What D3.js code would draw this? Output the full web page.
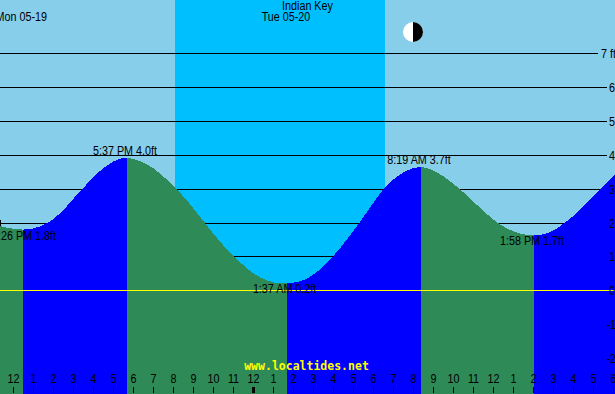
<!DOCTYPE html>
<html>
<head>
<meta charset="utf-8">
<script src="https://cdn.jsdelivr.net/npm/d3@7"></script>
<style>
  html, body { margin: 0; padding: 0; background: #87ceeb; overflow: hidden; }
  svg { display: block; }
  text { font-family: "Liberation Sans", Arial, sans-serif; font-size: 12.5px; fill: #000; }
  .url { font-family: "DejaVu Sans Mono", monospace; font-size: 11.5px; font-weight: bold; fill: #ff0; }
</style>
</head>
<body>
<div id="chart"></div>
<script>
// hours counted from noon Mon 05-19, height in feet
const tideHours = [-0.73, -0.23, 0.42, 0.92, 1.6, 2.27, 3.12, 3.77, 4.27, 4.77, 5.17, 5.62,
  6.27, 6.94, 7.6, 8.1, 8.6, 9.52, 10.27, 10.97, 11.6, 12.27, 12.94, 13.6,
  14.27, 14.94, 15.94, 16.6, 17.19, 17.77, 18.44, 18.94, 19.6, 20.32,
  20.86, 21.52, 22.27, 23.02, 23.69, 24.22, 24.86, 25.36, 25.97,
  26.69, 27.47, 28.36, 29.27, 30.02];
const tideFeet = [1.90, 1.84, 1.80, 1.83, 1.98, 2.28, 2.83, 3.24, 3.53, 3.75, 3.87, 3.92,
  3.82, 3.61, 3.28, 2.99, 2.67, 1.99, 1.44, 1.01, 0.66, 0.39, 0.24, 0.22,
  0.27, 0.47, 1.02, 1.50, 1.96, 2.45, 2.99, 3.28, 3.54, 3.65,
  3.56, 3.34, 2.99, 2.58, 2.22, 1.97, 1.77, 1.67, 1.63,
  1.70, 1.98, 2.43, 2.99, 3.42];

// highs and lows
const eventHours = [0.42, 5.62, 13.6, 20.32, 25.97];
const eventFeet = [1.80, 3.92, 0.22, 3.65, 1.63];
const eventLabels = ['12:26 PM 1.8ft', '5:37 PM 4.0ft', '1:37 AM 0.2ft', '8:19 AM 3.7ft', '1:58 PM 1.7ft'];

const nightStart = 8.02;
const nightEnd = 18.52;

const feetTicks = [7, 6, 5, 4, 3, 2, 1, 0, -1, -2];
const feetLabels = ['7 ft', '6', '5', '4', '3', '2', '1', '0', '-1', '-2'];
const hourLabels = ['12', '1', '2', '3', '4', '5', '6', '7', '8', '9', '10', '11',
  '12', '1', '2', '3', '4', '5', '6', '7', '8', '9', '10', '11',
  '12', '1', '2', '3', '4', '5', '6'];

const width = 615;
const height = 394;

const xScale = d3.scaleLinear().domain([0, 30]).range([14.6, 614.6]);
const yScale = d3.scaleLinear().domain([0, 7]).range([290.8, 53.85]);
// curve was read against a slightly different origin
const yTide = d3.scaleLinear().domain([0, 7]).range([290.5, 53.5]);

const svg = d3.select('#chart')
  .append('svg')
  .attr('width', width)
  .attr('height', height)
  .attr('viewBox', `0 0 ${width} ${height}`);

// -------------------------------
// Day / night background
// -------------------------------
svg.append('rect')
  .attr('width', width).attr('height', height)
  .attr('fill', '#87ceeb');

svg.append('rect')
  .attr('x', xScale(nightStart))
  .attr('width', xScale(nightEnd) - xScale(nightStart))
  .attr('height', height)
  .attr('fill', '#00bfff')
  .attr('shape-rendering', 'crispEdges');

// -------------------------------
// Grid lines (water covers them)
// -------------------------------
svg.append('g')
  .selectAll('line')
  .data(feetTicks.filter((d) => d > 0))
  .join('line')
  .attr('x1', 0)
  .attr('x2', (d) => (d === 7 ? 598 : 607))
  .attr('y1', (d) => yScale(d))
  .attr('y2', (d) => yScale(d))
  .attr('stroke', '#000')
  .attr('shape-rendering', 'crispEdges');

// -------------------------------
// Water: one smooth curve, clipped to each rising or falling run
// -------------------------------
const tide = tideHours.map((h, i) => ({ h, ft: tideFeet[i] }));
const area = d3.area()
  .x((d) => xScale(d.h))
  .y0(height)
  .y1((d) => yTide(d.ft))
  .curve(d3.curveCatmullRom.alpha(0.5));

const edges = [d3.min(tideHours), ...eventHours, d3.max(tideHours)];
const defs = svg.append('defs');
d3.pairs(edges).forEach(([a, b], i) => {
  defs.append('clipPath')
    .attr('id', `run-${i}`)
    .append('rect')
    .attr('x', Math.round(xScale(a)))
    .attr('y', 0)
    .attr('width', Math.round(xScale(b)) - Math.round(xScale(a)))
    .attr('height', height);

  svg.append('path')
    .datum(tide)
    .attr('d', area)
    .attr('clip-path', `url(#run-${i})`)
    .attr('fill', i % 2 === 0 ? '#2e8b57' : '#0000ff')
    .attr('shape-rendering', 'crispEdges');
});

// Datum line
svg.append('line')
  .attr('x1', 0).attr('x2', width)
  .attr('y1', yScale(0)).attr('y2', yScale(0))
  .attr('stroke', '#ffff00')
  .attr('shape-rendering', 'crispEdges');

// Clipped stub at the left edge
svg.append('line')
  .attr('x1', 0.5).attr('x2', 0.5)
  .attr('y1', yScale(2.1)).attr('y2', yScale(1.9))
  .attr('stroke', '#000')
  .attr('shape-rendering', 'crispEdges');

// -------------------------------
// Text
// -------------------------------
svg.append('text').attr('x', 307.5).attr('y', 10).attr('text-anchor', 'middle').text('Indian Key');
svg.append('text').attr('x', 286).attr('y', 21).attr('text-anchor', 'middle').text('Tue 05-20');
svg.append('text').attr('x', 47).attr('y', 21).attr('text-anchor', 'end').text('Mon 05-19');

svg.append('g')
  .selectAll('text')
  .data(eventLabels)
  .join('text')
  .attr('text-anchor', 'middle')
  .attr('x', (d, i) => xScale(eventHours[i]) - 2)
  .attr('y', (d, i) => yTide(eventFeet[i]) + (i % 2 === 0 ? 10 : -3))
  .text((d) => d);

svg.append('g')
  .selectAll('text')
  .data(feetLabels)
  .join('text')
  .attr('x', (d, i) => (i === 0 ? 601 : (feetTicks[i] < 0 ? 606.5 : 609)))
  .attr('y', (d, i) => yScale(feetTicks[i]) + 4.5)
  .text((d) => d);

// -------------------------------
// Hour axis
// -------------------------------
const hours = svg.append('g');
hourLabels.forEach((label, i) => {
  const x = Math.floor(xScale(i)) - 1;
  hours.append('text')
    .attr('x', x + 0.5)
    .attr('y', 383)
    .attr('text-anchor', 'middle')
    .text(label);
  hours.append('rect')
    .attr('x', i === 12 ? x - 1 : x)
    .attr('y', 387)
    .attr('width', i === 12 ? 3 : 1)
    .attr('height', 6)
    .attr('fill', '#000')
    .attr('shape-rendering', 'crispEdges');
});

// the original font is narrower than Liberation Sans
svg.selectAll('text').each(function () {
  const len = this.getComputedTextLength();
  d3.select(this)
    .attr('textLength', (len * 0.86).toFixed(1))
    .attr('lengthAdjust', 'spacingAndGlyphs');
});

svg.append('text')
  .attr('class', 'url')
  .attr('x', 306.5)
  .attr('y', 370)
  .attr('text-anchor', 'middle')
  .text('www.localtides.net');

// -------------------------------
// Moon phase
// -------------------------------
const moon = svg.append('g').attr('transform', 'translate(413,32)');
moon.append('circle').attr('r', 10).attr('fill', '#fff');
moon.append('path')
  .attr('d', d3.arc()({ innerRadius: 0, outerRadius: 10, startAngle: 0, endAngle: Math.PI }))
  .attr('fill', '#000');
</script>
</body>
</html>
